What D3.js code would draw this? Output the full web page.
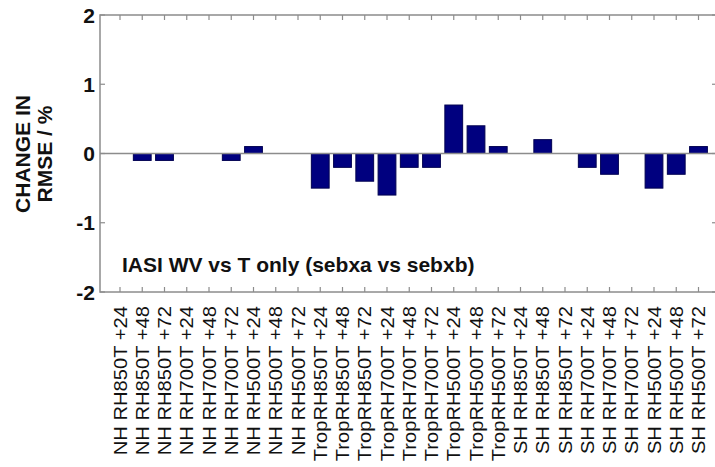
<!DOCTYPE html>
<html>
<head>
<meta charset="utf-8">
<script src="https://cdn.jsdelivr.net/npm/d3@7"></script>
<style>
  html, body { margin: 0; padding: 0; background: #fff; }
  svg { display: block; }
  text { font-family: "Liberation Sans", Arial, Helvetica, sans-serif; }
</style>
</head>
<body>
<svg id="chart" width="715" height="467"></svg>
<script>
// Forecast ranges and verification regions
const categories = [
  "NH RH850T +24", "NH RH850T +48", "NH RH850T +72",
  "NH RH700T +24", "NH RH700T +48", "NH RH700T +72",
  "NH RH500T +24", "NH RH500T +48", "NH RH500T +72",
  "TropRH850T +24", "TropRH850T +48", "TropRH850T +72",
  "TropRH700T +24", "TropRH700T +48", "TropRH700T +72",
  "TropRH500T +24", "TropRH500T +48", "TropRH500T +72",
  "SH RH850T +24", "SH RH850T +48", "SH RH850T +72",
  "SH RH700T +24", "SH RH700T +48", "SH RH700T +72",
  "SH RH500T +24", "SH RH500T +48", "SH RH500T +72"
];

// Change in RMSE (%)
const rmseChange = [
  0.0, -0.1, -0.1,
  0.0, 0.0, -0.1,
  0.1, 0.0, 0.0,
  -0.5, -0.2, -0.4,
  -0.6, -0.2, -0.2,
  0.7, 0.4, 0.1,
  0.0, 0.2, 0.0,
  -0.2, -0.3, 0.0,
  -0.5, -0.3, 0.1
];

const yTicks = [2, 1, 0, -1, -2];
const annotation = "IASI WV vs T only (sebxa vs sebxb)";
const yTitle = ["CHANGE IN", "RMSE / %"];

const svg = d3.select("#chart");
const frame = { left: 100, right: 717, top: 15, bottom: 292 };
const axisColor = "#8c8c8c";

const x = d3.scaleBand()
  .domain(categories)
  .range([108.875, 709.625])
  .paddingInner(0.2)
  .paddingOuter(0.1);

const y = d3.scaleLinear()
  .domain([-2, 2])
  .range([frame.bottom, frame.top]);

const cx = d => x(d) + x.bandwidth() / 2;

// bars
svg.append("g")
  .selectAll("rect")
  .data(categories.map((c, i) => ({ c, v: rmseChange[i] })).filter(d => d.v !== 0))
  .join("rect")
  .attr("x", d => x(d.c))
  .attr("width", x.bandwidth())
  .attr("y", d => y(Math.max(0, d.v)))
  .attr("height", d => Math.abs(y(d.v) - y(0)))
  .attr("fill", "#00007f")
  .attr("stroke", "#000050")
  .attr("stroke-width", 1);

// zero line
svg.append("line")
  .attr("x1", frame.left).attr("x2", frame.right)
  .attr("y1", y(0)).attr("y2", y(0))
  .attr("stroke", axisColor).attr("stroke-width", 1.5);

// frame
const g = svg.append("g").attr("stroke", axisColor).attr("fill", "none");
g.append("rect")
  .attr("x", frame.left).attr("y", frame.top)
  .attr("width", frame.right - frame.left)
  .attr("height", frame.bottom - frame.top)
  .attr("stroke-width", 1.5);

// x ticks, top and bottom, pointing inward
categories.forEach(c => {
  g.append("line").attr("x1", cx(c)).attr("x2", cx(c))
    .attr("y1", frame.top).attr("y2", frame.top + 5).attr("stroke-width", 1.2);
  g.append("line").attr("x1", cx(c)).attr("x2", cx(c))
    .attr("y1", frame.bottom).attr("y2", frame.bottom - 5).attr("stroke-width", 1.2);
});

// y ticks, left and right, pointing inward
yTicks.forEach(t => {
  g.append("line").attr("x1", frame.left).attr("x2", frame.left + 5)
    .attr("y1", y(t)).attr("y2", y(t)).attr("stroke-width", 1.2);
  g.append("line").attr("x1", frame.right).attr("x2", frame.right - 5)
    .attr("y1", y(t)).attr("y2", y(t)).attr("stroke-width", 1.2);
});

// y tick labels
svg.append("g")
  .selectAll("text")
  .data(yTicks)
  .join("text")
  .attr("x", 95)
  .attr("y", d => y(d))
  .attr("dy", "0.36em")
  .attr("text-anchor", "end")
  .attr("font-weight", "bold")
  .attr("font-size", 21)
  .attr("fill", "#111")
  .text(d => d);

// category labels, rotated and stretched along their length
svg.append("g")
  .selectAll("text")
  .data(categories)
  .join("text")
  .attr("transform", d => `translate(${cx(d) + 6.5},306) rotate(-90) scale(1.12,1)`)
  .attr("text-anchor", "end")
  .attr("font-size", 18)
  .attr("fill", "#111")
  .style("white-space", "pre")
  .text(d => d);

// y axis title
svg.append("g")
  .selectAll("text")
  .data(yTitle)
  .join("text")
  .attr("transform", (d, i) => `translate(${30 + i * 22},154) rotate(-90)`)
  .attr("text-anchor", "middle")
  .attr("font-weight", "bold")
  .attr("font-size", 21)
  .attr("fill", "#111")
  .text(d => d);

// annotation inside the plot
svg.append("text")
  .attr("x", 122)
  .attr("y", 272)
  .attr("font-weight", "bold")
  .attr("font-size", 21)
  .attr("fill", "#111")
  .text(annotation);
</script>
</body>
</html>
